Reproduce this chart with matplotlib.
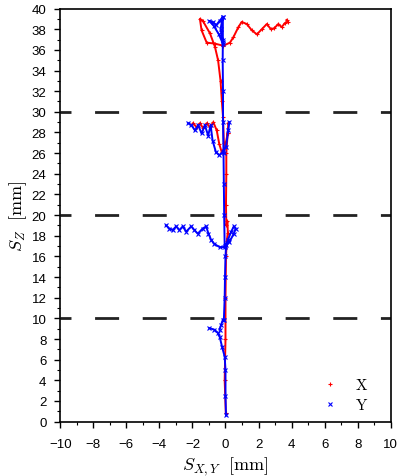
import numpy as np
import matplotlib
matplotlib.use('Agg')
import matplotlib.pyplot as plt

plt.rcParams['mathtext.fontset'] = 'cm'
plt.rcParams['font.family'] = 'Liberation Sans'

nan = np.nan

# X trajectory (red), NaN separates the pieces
x_red = [0.02, -0.05, 0.0, 0.0, 0.03, 0.08, 0.14, 0.12, 0.05, 0.03, 0.05, 0.05, 0.13, 0.17, nan,
         -1.96, -1.75, -1.55, -1.35, -1.14, -0.94, -0.74, -0.53, -0.38, -0.23, -0.03, 0.13, nan,
         -0.1, -0.15, -0.22, -0.3, -0.45, -0.64, -0.94, -1.37, -1.55, -1.45, -1.14, -0.64, -0.13,
         0.27, 0.47, 0.78, 0.98, 1.29, 1.59, 1.90, 2.20, 2.50, 2.75, 2.95, 3.2, 3.4, 3.6, 3.76, 3.7]
z_red = [0.8, 4, 8, 12, 16, 17.5, 18.3, 19.4, 19.0, 21, 24, 26, 27.9, 28.9, nan,
         28.9, 28.5, 28.9, 28.4, 28.9, 28.5, 29.0, 28.2, 26.9, 26.1, 26.6, 27.9, nan,
         27, 29.5, 31, 33, 35, 36.3, 37.6, 38.8, 39.0, 37.9, 36.7, 36.6, 36.4,
         36.7, 37.2, 38.2, 38.7, 38.5, 37.9, 37.5, 38.0, 38.5, 38.0, 38.1, 38.5, 38.2, 38.6, 38.7, 38.9]

# Y trajectory (blue)
x_blue = [0.03, 0.0, 0.0, -0.05, -0.2, -0.35, -0.47, -0.67, -0.97, nan,
          -0.36, -0.26, -0.16, -0.1, -0.05, -0.03, 0.0, 0.04, 0.14, 0.35, 0.50, 0.61, 0.50, 0.24,
          -0.06, -0.36, -0.67, -0.87, -1.03, -1.17, -1.38, -1.68, -1.88, -2.08, -2.38, -2.59,
          -2.79, -2.99, -3.2, -3.4, -3.6, nan,
          -0.05, -0.08, -0.1, -0.12, -0.15, -0.15, -0.17, -0.16, -0.16, nan,
          0.23, 0.17, 0.03, -0.17, -0.38, -0.58, -0.78, -0.90, -1.05, -1.25, -1.45, -1.65, -1.85,
          -2.06, -2.26, nan,
          -0.16, -0.4, -0.7, -0.97, -0.77, -0.56, -0.36, -0.16, -0.3, -0.16]
z_blue = [0.6, 2.5, 5, 6.3, 7.2, 8.2, 8.6, 8.9, 9.05, nan,
          8.9, 9.4, 9.85, 9.8, 12, 14, 16, 17.1, 17.6, 18.4, 18.9, 18.7, 18.2, 17.4,
          16.9, 16.9, 17.2, 17.6, 18.2, 18.9, 18.7, 18.2, 18.55, 18.9, 18.4, 18.9,
          18.55, 18.9, 18.55, 18.7, 19.0, nan,
          17, 20, 23, 26, 29, 32, 35, 37, 39.2, nan,
          29.0, 28.2, 26.6, 26.1, 25.8, 26.1, 27.2, 28.7, 27.7, 28.7, 27.9, 28.7, 28.2,
          28.7, 28.9, nan,
          36.6, 37.5, 38.3, 38.8, 38.7, 38.4, 38.8, 39.2, 38.0, 36.8]

levels = [10, 20, 30]

fig = plt.figure(figsize=(3.97, 4.77), dpi=100)
ax = fig.add_axes([0.152, 0.114, 0.832, 0.866])

for z in levels:
    ax.axhline(z, color='#222222', lw=2, ls=(4.7, (8.65, 8.5)), zorder=1)

ax.plot(x_red, z_red, color='red', lw=1.4, marker='+', ms=3, mew=0.8, zorder=2)
ax.plot(x_blue, z_blue, color='blue', lw=1.4, marker='x', ms=2.5, mew=0.8, zorder=3)

# legend handles: markers only
ax.plot([], [], ls='none', marker='+', color='red', ms=3, mew=0.8, label=r'$\mathrm{X}$')
ax.plot([], [], ls='none', marker='x', color='blue', ms=2.5, mew=0.8, label=r'$\mathrm{Y}$')
h, l = ax.get_legend_handles_labels()
ax.legend(h[-2:], l[-2:], loc='lower right', bbox_to_anchor=(0.975, -0.01), frameon=False,
          fontsize=11, handlelength=1.5, handletextpad=0.9, labelspacing=0.3)

ax.set_xlim(-10, 10)
ax.set_ylim(0, 40)
ax.set_xticks(np.arange(-10, 11, 2))
ax.set_yticks(np.arange(0, 41, 2))
ax.set_xticks(np.arange(-10, 11, 1), minor=True)
ax.set_yticks(np.arange(0, 41, 1), minor=True)
ax.tick_params(which='major', direction='out', length=4, width=1, labelsize=9.5)
ax.tick_params(which='minor', direction='out', length=2, width=0.8)
ax.tick_params(axis='x', which='major', pad=8)
ax.tick_params(axis='y', which='major', pad=6)
for s in ax.spines.values():
    s.set_linewidth(1.2)

ax.set_xlabel(r'$S_{X,Y}\ \ [\mathrm{mm}]$', fontsize=13, labelpad=3)
ax.set_ylabel(r'$S_{Z}\ \ [\mathrm{mm}]$', fontsize=13, labelpad=2)

fig.savefig('out.png', dpi=100)
